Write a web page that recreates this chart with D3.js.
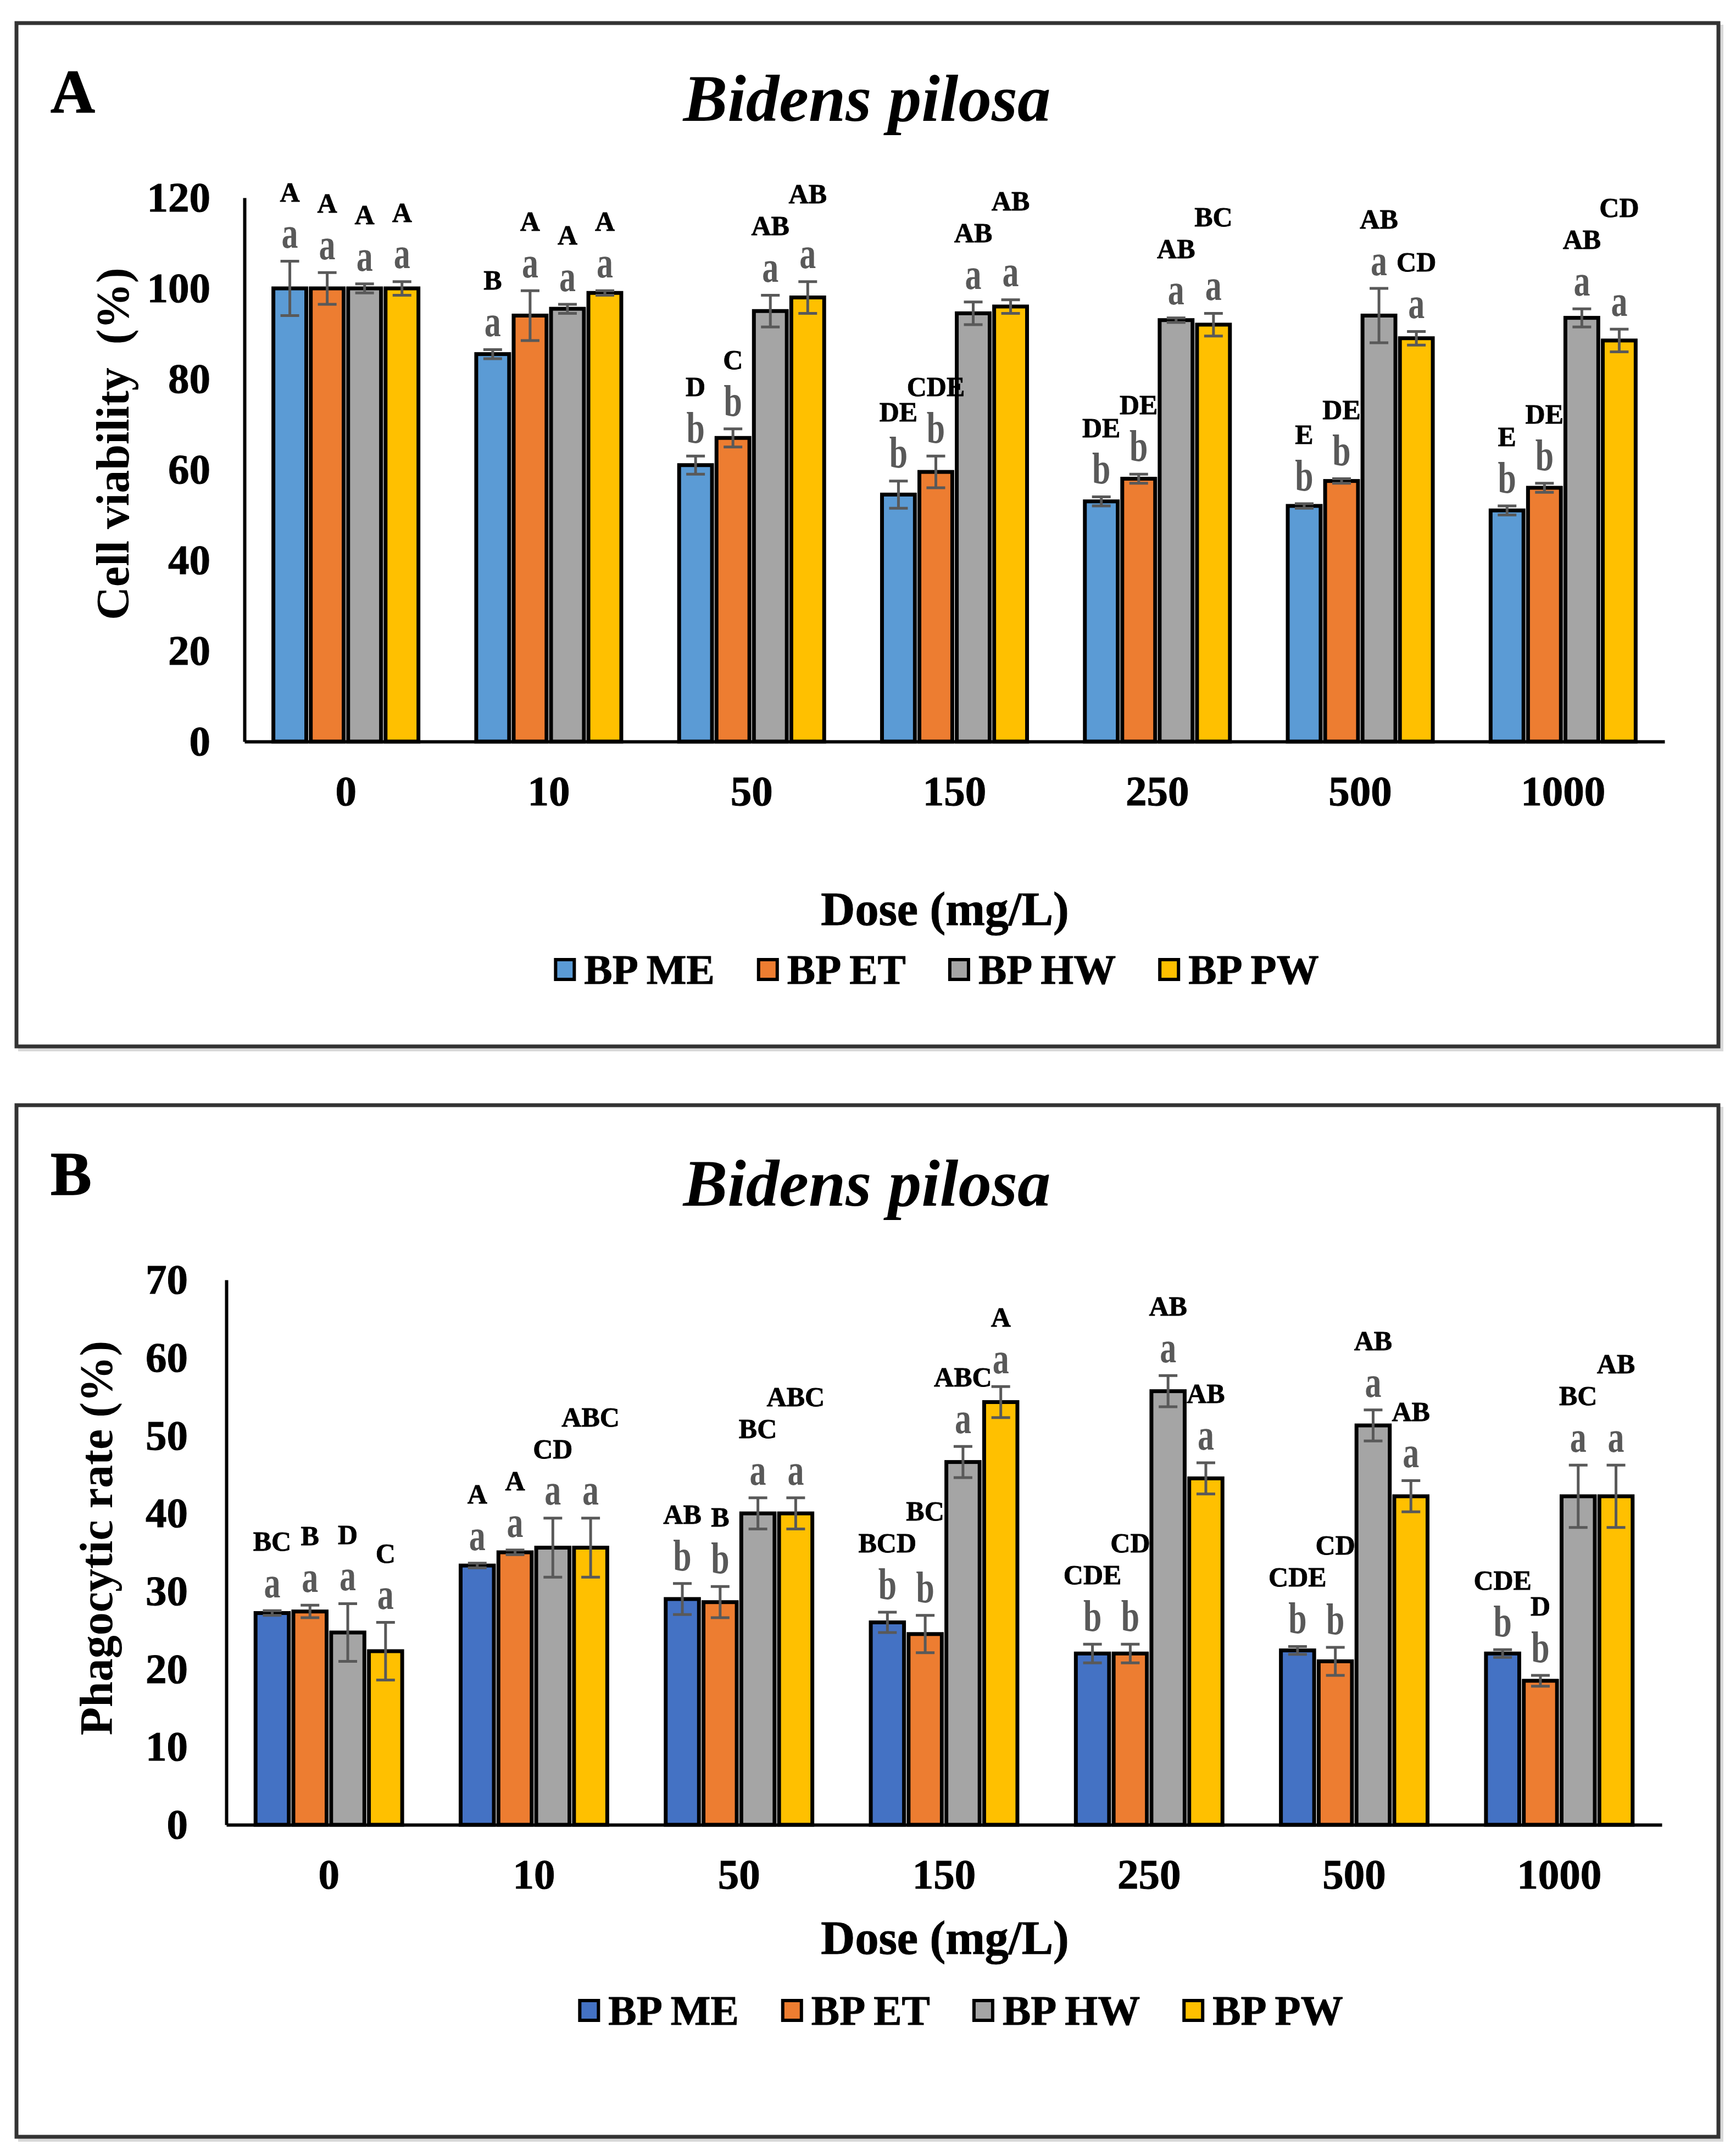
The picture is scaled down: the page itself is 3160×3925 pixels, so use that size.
<!DOCTYPE html>
<html>
<head>
<meta charset="utf-8">
<script src="https://cdn.jsdelivr.net/npm/d3@7"></script>
<style>
  body { margin: 0; background: #fff; }
  text { font-family: "Liberation Serif", "Times New Roman", serif; font-weight: bold; }
</style>
</head>
<body>
<div id="chart"></div>
<script>
/* categories */
var doses = ["0", "10", "50", "150", "250", "500", "1000"];
var series = ["BP ME", "BP ET", "BP HW", "BP PW"];

/* A - cell viability (%) */
var viabME = [100, 85.5, 61, 54.5, 53, 52, 51];
var viabET = [100, 94, 67, 59.5, 58, 57.5, 56];
var viabHW = [100, 95.5, 95, 94.5, 93, 94, 93.5];
var viabPW = [100, 99, 98, 96, 92, 89, 88.5];
var viabErrME = [6, 1, 2, 3, 1, 0.5, 1];
var viabErrET = [3.5, 5.5, 2, 3.5, 1, 0.5, 1];
var viabErrHW = [1, 1, 3.5, 2.5, 0.5, 6, 2];
var viabErrPW = [1.5, 0.5, 3.5, 1.5, 2.5, 1.5, 2.5];
var viabLowME = ["a", "a", "b", "b", "b", "b", "b"];
var viabLowET = ["a", "a", "b", "b", "b", "b", "b"];
var viabLowHW = ["a", "a", "a", "a", "a", "a", "a"];
var viabLowPW = ["a", "a", "a", "a", "a", "a", "a"];
var viabUpME = ["A", "B", "D", "DE", "DE", "E", "E"];
var viabUpET = ["A", "A", "C", "CDE", "DE", "DE", "DE"];
var viabUpHW = ["A", "A", "AB", "AB", "AB", "AB", "AB"];
var viabUpPW = ["A", "A", "AB", "AB", "BC", "CD", "CD"];
var viabTicks = [0, 20, 40, 60, 80, 100, 120];

/* B - phagocytic rate (%) */
var phagME = [27.2, 33.3, 29, 26, 22, 22.4, 22];
var phagET = [27.4, 35, 28.6, 24.5, 22, 21, 18.5];
var phagHW = [24.7, 35.6, 40, 46.6, 55.7, 51.3, 42.2];
var phagPW = [22.3, 35.6, 40, 54.3, 44.5, 42.2, 42.2];
var phagErrME = [0.3, 0.3, 2, 1.3, 1.2, 0.5, 0.5];
var phagErrET = [0.8, 0.3, 2, 2.4, 1.2, 1.8, 0.7];
var phagErrHW = [3.7, 3.8, 2, 2, 2, 2, 4];
var phagErrPW = [3.7, 3.8, 2, 2, 2, 2, 4];
var phagLowME = ["a", "a", "b", "b", "b", "b", "b"];
var phagLowET = ["a", "a", "b", "b", "b", "b", "b"];
var phagLowHW = ["a", "a", "a", "a", "a", "a", "a"];
var phagLowPW = ["a", "a", "a", "a", "a", "a", "a"];
var phagUpME = ["BC", "A", "AB", "BCD", "CDE", "CDE", "CDE"];
var phagUpET = ["B", "A", "B", "BC", "CD", "CD", "D"];
var phagUpHW = ["D", "CD", "BC", "ABC", "AB", "AB", "BC"];
var phagUpPW = ["C", "ABC", "ABC", "A", "AB", "AB", "AB"];
var phagTicks = [0, 10, 20, 30, 40, 50, 60, 70];

var W = 3160, H = 3925;
var svg = d3.select("#chart").append("svg")
    .attr("width", W)
    .attr("height", H);

function drawPanel(p) {
    var g = svg.append("g");

    // frame with a soft shadow
    g.append("rect")
        .attr("x", p.box[0] + 6).attr("y", p.box[1] + 6)
        .attr("width", p.box[2]).attr("height", p.box[3])
        .attr("fill", "none")
        .attr("stroke", "#d9d9d9")
        .attr("stroke-width", 6);
    g.append("rect")
        .attr("x", p.box[0]).attr("y", p.box[1])
        .attr("width", p.box[2]).attr("height", p.box[3])
        .attr("fill", "#fff")
        .attr("stroke", "#333")
        .attr("stroke-width", 7);

    g.append("text")
        .attr("x", p.box[0] + 62).attr("y", p.box[1] + 163)
        .attr("font-size", 112)
        .attr("stroke", "#000").attr("stroke-width", 1.5)
        .text(p.tag);

    g.append("text")
        .attr("x", 1578).attr("y", p.titleY)
        .attr("text-anchor", "middle")
        .attr("font-size", 121)
        .attr("font-style", "italic")
        .text("Bidens pilosa");

    var x0 = d3.scaleBand().domain(doses)
        .range([p.left, p.right])
        .paddingInner(0.285).paddingOuter(0.1425);
    var x1 = d3.scaleBand().domain(series)
        .range([0, x0.bandwidth()])
        .paddingInner(0.12);
    var y = d3.scaleLinear().domain([0, p.max]).range([p.bottom, p.top]);

    // axes
    var yAxis = g.append("g")
        .attr("transform", "translate(" + p.left + ",0)")
        .call(d3.axisLeft(y).tickValues(p.ticks).tickSize(0).tickPadding(p.yPad));
    var xAxis = g.append("g")
        .attr("transform", "translate(0," + p.bottom + ")")
        .call(d3.axisBottom(x0).tickSize(0).tickPadding(61));
    [yAxis, xAxis].forEach(function(a) {
        a.attr("font-family", null).attr("font-size", 77);
        a.select(".domain").attr("stroke", "#000").attr("stroke-width", 6);
        a.selectAll("text").attr("fill", "#000")
            .attr("stroke", "#000").attr("stroke-width", 1);
    });

    // rows for every bar
    var rows = [];
    doses.forEach(function(d, i) {
        series.forEach(function(s, k) {
            rows.push({dose: d, series: s, k: k,
                value: p.values[k][i], err: p.errors[k][i],
                low: p.lower[k][i], up: p.upper[k][i]});
        });
    });

    g.selectAll("rect.bar").data(rows).enter()
        .append("rect")
        .attr("class", "bar")
        .attr("x", function(d) { return x0(d.dose) + x1(d.series); })
        .attr("y", function(d) { return y(d.value); })
        .attr("width", x1.bandwidth())
        .attr("height", function(d) { return y(0) - y(d.value); })
        .attr("fill", function(d) { return p.colors[d.k]; })
        .attr("stroke", "#000")
        .attr("stroke-width", 7);

    var cx = function(d) { return x0(d.dose) + x1(d.series) + x1.bandwidth() / 2; };
    var cap = 17;
    var eb = g.selectAll("g.err").data(rows).enter().append("g")
        .attr("class", "err")
        .attr("stroke", "#595959")
        .attr("stroke-width", 5);
    eb.append("line")
        .attr("x1", cx).attr("x2", cx)
        .attr("y1", function(d) { return y(d.value - d.err); })
        .attr("y2", function(d) { return y(d.value + d.err); });
    eb.append("line")
        .attr("x1", function(d) { return cx(d) - cap; })
        .attr("x2", function(d) { return cx(d) + cap; })
        .attr("y1", function(d) { return y(d.value + d.err); })
        .attr("y2", function(d) { return y(d.value + d.err); });
    eb.append("line")
        .attr("x1", function(d) { return cx(d) - cap; })
        .attr("x2", function(d) { return cx(d) + cap; })
        .attr("y1", function(d) { return y(d.value - d.err); })
        .attr("y2", function(d) { return y(d.value - d.err); });

    g.selectAll("text.low").data(rows).enter()
        .append("text")
        .attr("class", "low")
        .attr("transform", function(d) { return "translate(" + cx(d) + "," + (y(d.value + d.err) - 52) + ") scale(1,1.35)"; })
        .attr("text-anchor", "middle")
        .attr("dominant-baseline", "central")
        .attr("font-size", 60)
        .attr("fill", "#595959")
        .text(function(d) { return d.low; });

    var up = g.selectAll("text.up").data(rows).enter()
        .append("text")
        .attr("class", "up")
        .attr("x", cx)
        .attr("text-anchor", "middle")
        .attr("dominant-baseline", "central")
        .attr("font-size", 50)
        .attr("fill", "#000")
        .attr("stroke", "#000").attr("stroke-width", 0.8)
        .text(function(d) { return d.up; });

    // upper-case letters sit above the lower-case one; nudge up when they
    // would run into the label of the bar on the left
    var prev = null;
    up.each(function(d) {
        if (d.k === 0) prev = null;
        d.cx = cx(d);
        d.w = this.getComputedTextLength();
        d.upY = y(d.value + d.err) - 126;
        if (prev && Math.abs(d.cx - prev.cx) < (d.w + prev.w) / 2 + 4 &&
            Math.abs(d.upY - prev.upY) < 40) {
            d.upY = prev.upY - 58;
        }
        prev = d;
    });
    up.attr("y", function(d) { return d.upY; });

    // axis titles
    g.append("text")
        .attr("transform", "translate(" + p.yTitle[0] + "," + p.yTitle[1] + ") rotate(-90)")
        .attr("text-anchor", "middle")
        .attr("dominant-baseline", "central")
        .attr("font-size", 84)
        .style("white-space", "pre")
        .text(p.yLabel);

    g.append("text")
        .attr("x", 1720).attr("y", p.doseY)
        .attr("text-anchor", "middle")
        .attr("dominant-baseline", "central")
        .attr("font-size", 86)
        .attr("stroke", "#000").attr("stroke-width", 1)
        .text("Dose (mg/L)");

    // legend
    var leg = g.append("g");
    var pos = 0;
    series.forEach(function(s, k) {
        var it = leg.append("g").attr("transform", "translate(" + pos + ",0)");
        it.append("rect")
            .attr("x", 0).attr("y", -18)
            .attr("width", 34).attr("height", 36)
            .attr("fill", p.colors[k])
            .attr("stroke", "#000")
            .attr("stroke-width", 6);
        var t = it.append("text")
            .attr("x", 52).attr("y", 0)
            .attr("dominant-baseline", "central")
            .attr("font-size", 77)
            .attr("stroke", "#000").attr("stroke-width", 1)
            .text(s);
        pos += 52 + t.node().getComputedTextLength() + 80;
    });
    pos -= 80;
    leg.attr("transform", "translate(" + (p.legendX - pos / 2) + "," + p.legendY + ")");
}

drawPanel({
    tag: "A",
    box: [30, 42, 3098, 1863],
    titleY: 220,
    left: 445, right: 3030, top: 360, bottom: 1350,
    max: 120, ticks: viabTicks, yPad: 62,
    values: [viabME, viabET, viabHW, viabPW],
    errors: [viabErrME, viabErrET, viabErrHW, viabErrPW],
    lower: [viabLowME, viabLowET, viabLowHW, viabLowPW],
    upper: [viabUpME, viabUpET, viabUpHW, viabUpPW],
    colors: ["#5B9BD5", "#ED7D31", "#A5A5A5", "#FFC000"],
    yLabel: "Cell viability  (%)", yTitle: [205, 808],
    doseY: 1655, legendX: 1706, legendY: 1765
});

drawPanel({
    tag: "B",
    box: [30, 2012, 3098, 1878],
    titleY: 2195,
    left: 412, right: 3025, top: 2330, bottom: 3322,
    max: 70, ticks: phagTicks, yPad: 70,
    values: [phagME, phagET, phagHW, phagPW],
    errors: [phagErrME, phagErrET, phagErrHW, phagErrPW],
    lower: [phagLowME, phagLowET, phagLowHW, phagLowPW],
    upper: [phagUpME, phagUpET, phagUpHW, phagUpPW],
    colors: ["#4472C4", "#ED7D31", "#A5A5A5", "#FFC000"],
    yLabel: "Phagocytic rate (%)", yTitle: [175, 2800],
    doseY: 3528, legendX: 1750, legendY: 3660
});
</script>
</body>
</html>
